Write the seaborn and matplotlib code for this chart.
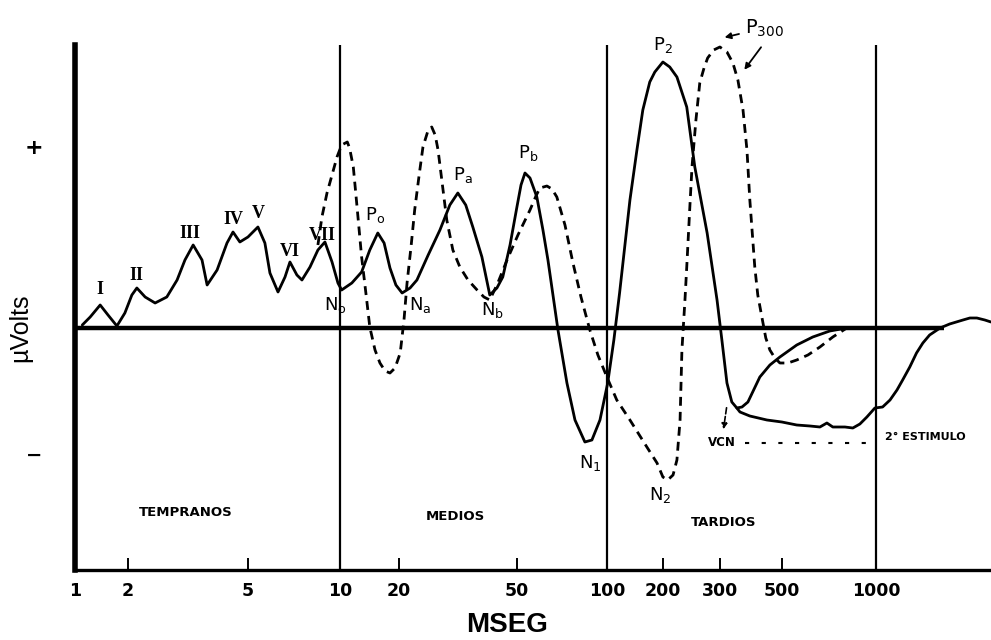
import numpy as np
import matplotlib
matplotlib.use("Agg")
from matplotlib import pyplot as plt
import seaborn as sns

# --- datos (latencia en ms, amplitud en unidades relativas de uV) ---
solid_ms = [1.1, 1.22, 1.39, 1.54, 1.73, 1.92, 2.06, 2.14, 2.28, 2.46,
            2.69, 2.91, 3.09, 3.29, 3.52, 3.66, 3.95, 4.26, 4.46, 4.7,
            5.0, 5.39, 5.68, 5.9, 6.27, 6.61, 6.86, 7.23, 7.51, 7.98,
            8.47, 8.93, 9.42, 9.85, 10.2, 11.5, 12.9, 14.2, 15.6, 16.8,
            18.0, 19.3, 20.5, 21.8, 23.0, 25.1, 27.5, 29.7, 31.6, 33.6,
            35.5, 38.1, 40.5, 42.8, 44.8, 47.4, 50.0, 51.6, 53.2, 55.3,
            58.3, 61.1, 63.5, 66.0, 68.6, 73.5, 78.2, 84.4, 89.1, 94.8,
            101, 109, 117, 133, 145, 156, 170, 181, 200, 210,
            221, 237, 251, 274, 294, 305, 318, 331, 345, 360,
            378, 417, 453, 492, 558, 628, 712, 807]
solid_uv = [0.03, 0.11, 0.23, 0.13, 0.02, 0.15, 0.33, 0.40, 0.31, 0.25,
            0.31, 0.48, 0.68, 0.83, 0.68, 0.43, 0.58, 0.85, 0.96, 0.86,
            0.91, 1.01, 0.85, 0.55, 0.36, 0.51, 0.66, 0.53, 0.48, 0.61,
            0.78, 0.86, 0.66, 0.45, 0.38, 0.45, 0.56, 0.78, 0.95, 0.85,
            0.60, 0.43, 0.35, 0.40, 0.48, 0.73, 0.98, 1.23, 1.35, 1.23,
            1.01, 0.71, 0.33, 0.40, 0.51, 0.83, 1.21, 1.43, 1.55, 1.50,
            1.31, 0.98, 0.68, 0.33, -0.02, -0.55, -0.92, -1.14, -1.12, -0.92,
            -0.55, -0.12, 0.35, 1.28, 1.78, 2.18, 2.46, 2.56, 2.66, 2.61,
            2.51, 2.21, 1.61, 0.95, 0.28, -0.12, -0.55, -0.74, -0.80, -0.79,
            -0.74, -0.49, -0.37, -0.29, -0.17, -0.09, -0.03, 0.00]

# respuesta con 2o estimulo (rama continua que sigue abajo)
second_ms = [345, 354, 384, 442, 500, 558, 615, 662, 697, 728,
             796, 844, 889, 936, 993, 1060, 1130, 1200, 1260, 1340,
             1420, 1500, 1590, 1740, 1890, 2120, 2250, 2390, 2560, 2700]
second_uv = [-0.80, -0.84, -0.88, -0.92, -0.94, -0.97, -0.98, -0.99, -0.95, -0.99,
             -0.99, -1.00, -0.96, -0.89, -0.80, -0.79, -0.72, -0.62, -0.52, -0.39,
             -0.25, -0.15, -0.07, 0.00, 0.04, 0.08, 0.10, 0.10, 0.08, 0.06]

# curva discontinua (P300)
dashed_ms = [8.47, 8.73, 9.07, 9.42, 9.78, 10.2, 10.9, 11.2, 11.7, 12.2,
             12.9, 13.6, 14.2, 15.1, 16.0, 17.0, 18.0, 19.1, 20.2, 20.8,
             21.3, 22.0, 22.6, 23.4, 24.1, 25.1, 25.8, 26.5, 27.1, 27.9,
             29.0, 30.4, 32.1, 34.2, 36.7, 38.7, 40.5, 43.1, 46.3, 50.4,
             55.3, 57.9, 59.7, 63.0, 65.5, 68.0, 72.4, 77.0, 81.9, 87.7,
             93.3, 100, 113, 133, 164, 186, 200, 207, 215, 221,
             226, 229, 234, 237, 242, 246, 253, 260, 268, 275,
             287, 300, 318, 334, 348, 363, 375, 384, 400, 410,
             424, 438, 453, 472, 492, 523, 558, 606, 662, 728, 807]
dashed_uv = [0.83, 1.11, 1.35, 1.53, 1.71, 1.83, 1.86, 1.80, 1.61, 1.23,
             0.71, 0.33, 0.01, -0.22, -0.35, -0.43, -0.45, -0.40, -0.25, 0.08,
             0.45, 0.83, 1.18, 1.53, 1.81, 1.98, 2.01, 1.93, 1.78, 1.48,
             1.08, 0.78, 0.61, 0.48, 0.38, 0.31, 0.28, 0.45, 0.68, 0.93,
             1.18, 1.32, 1.40, 1.42, 1.39, 1.31, 1.03, 0.65, 0.31, -0.02,
             -0.27, -0.49, -0.72, -0.92, -1.19, -1.35, -1.49, -1.52, -1.47, -1.32,
             -0.92, -0.22, 0.28, 0.61, 1.18, 1.61, 2.08, 2.45, 2.60, 2.70,
             2.78, 2.81, 2.76, 2.65, 2.48, 2.18, 1.78, 1.28, 0.61, 0.33,
             0.11, -0.10, -0.22, -0.30, -0.35, -0.35, -0.32, -0.27, -0.19, -0.09, 0.00]

tick_ms = [1, 2, 5, 10, 20, 50, 100, 200, 300, 500, 1000]
tick_labels = ["1", "2", "5", "10", "20", "50", "100", "200", "300", "500", "1000"]
decades = [10, 100, 1000]

roman_labels = ["I", "II", "III", "IV", "V", "VI", "VII"]
roman_ms = [1.39, 2.14, 3.21, 4.46, 5.39, 6.86, 8.73]
roman_uv = [0.38, 0.53, 0.95, 1.08, 1.15, 0.76, 0.93]

wave_labels = [r"N$_o$", r"P$_o$", r"N$_a$", r"P$_a$", r"N$_b$", r"P$_b$", r"N$_1$", r"N$_2$", r"P$_2$"]
wave_ms = [9.63, 15.1, 23.5, 32.9, 41.5, 54.4, 87.7, 193, 200]
wave_uv = [0.23, 1.13, 0.23, 1.53, 0.18, 1.75, -1.35, -1.67, 2.83]

region_labels = ["TEMPRANOS", "MEDIOS", "TARDIOS"]
region_ms = [3.11, 30.9, 310]
region_uv = [-1.85, -1.89, -1.94]

vcn_span_ms = [369, 971]
vcn_uv = -1.15

# eje X dibujado a mano: log "deformado"; posiciones (px) de cada marca en la figura original
scale_ms = [1, 2, 5, 10, 20, 50, 100, 200, 300, 500, 1000, 10000]
scale_px = [75, 128, 248, 340, 399, 517, 607, 663, 720, 782, 876, 1143]
scale_log = np.log10(scale_ms)


def fwd(x):
    x = np.asarray(x, dtype=float)
    return np.interp(np.log10(np.maximum(x, 1e-6)), scale_log, scale_px)


def inv(v):
    return 10 ** np.interp(np.asarray(v, dtype=float), scale_px, scale_log)


sns.set_style("white")
plt.rcParams['font.family'] = ['DejaVu Sans']
plt.rcParams['mathtext.default'] = 'regular'
plt.rcParams['text.color'] = 'black'
plt.rcParams['axes.edgecolor'] = 'black'
plt.rcParams['xtick.color'] = 'black'

fig = plt.figure(figsize=(9.91, 6.4), dpi=100)
ax = fig.add_axes([75 / 991, 1 - 570 / 640, 1 - 75 / 991, (570 - 45) / 640])
ax.set_xscale('function', functions=(fwd, inv))

sns.lineplot(x=solid_ms, y=solid_uv, ax=ax, color='black', lw=2.0, sort=False, estimator=None)
sns.lineplot(x=second_ms, y=second_uv, ax=ax, color='black', lw=2.0, sort=False, estimator=None)
sns.lineplot(x=dashed_ms, y=dashed_uv, ax=ax, color='black', lw=2.0, sort=False, estimator=None,
             linestyle=(0, (3.2, 2.2)))

# linea base y divisiones por decada
ax.hlines(0, 1, 1800, color='black', lw=3.2, zorder=1)
for d in decades:
    ax.axvline(d, color='black', lw=1.6, zorder=1)

ax.set_xlim(1, 2700)
ax.set_ylim(-2.42, 2.83)

for side in ['top', 'right']:
    ax.spines[side].set_visible(False)
ax.spines['left'].set_linewidth(4)
ax.spines['bottom'].set_linewidth(2.4)
ax.set_yticks([])
ax.set_xticks(tick_ms)
ax.set_xticklabels(tick_labels, fontsize=12.5, fontweight='bold')
ax.xaxis.set_minor_locator(matplotlib.ticker.NullLocator())
ax.tick_params(axis='x', bottom=True, direction='in', length=9, width=1.4, pad=9, colors='black')

# etiquetas de ondas
for lab, x, y in zip(roman_labels, roman_ms, roman_uv):
    ax.text(x, y, lab, ha='center', va='center', fontsize=13, fontweight='bold',
            family=['Liberation Serif'])
for lab, x, y in zip(wave_labels, wave_ms, wave_uv):
    ax.text(x, y, lab, ha='center', va='center', fontsize=13, clip_on=False)
for lab, x, y in zip(region_labels, region_ms, region_uv):
    ax.text(x, y, lab, ha='center', va='center', fontsize=9.5, fontweight='bold')

# P300 con sus flechas
arrow = dict(arrowstyle='-|>', color='black', lw=1.3, mutation_scale=9)
ax.annotate(r"P$_{300}$", xy=(305, 2.90), xytext=(369, 3.0), fontsize=14,
            ha='left', va='center', arrowprops=arrow, annotation_clip=False)
ax.annotate("", xy=(362, 2.56), xytext=(427, 2.83), arrowprops=arrow, annotation_clip=False)

# VCN y 2o estimulo
ax.annotate("", xy=(308, -1.04), xytext=(318, -0.77),
            arrowprops=dict(arrowstyle='-|>', color='black', lw=1.2, ls='--', mutation_scale=8))
ax.text(305, vcn_uv, "VCN", ha='center', va='center', fontsize=8.5, fontweight='bold')
ax.hlines(vcn_uv, vcn_span_ms[0], vcn_span_ms[1], color='black', lw=1.5, linestyles=(0, (2, 6)))
ax.text(1080, vcn_uv + 0.06, "2° ESTIMULO", ha='left', va='center', fontsize=8, fontweight='bold')

fig.text(20 / 991, 1 - 328 / 640, "µVolts", rotation=90, ha='center', va='center',
         fontsize=18, family=['Liberation Sans'])
fig.text(34 / 991, 1 - 148 / 640, "+", ha='center', va='center', fontsize=16, fontweight='bold')
fig.text(34 / 991, 1 - 455 / 640, "−", ha='center', va='center', fontsize=14, fontweight='bold')
fig.text(507 / 991, 1 - 625 / 640, "MSEG", ha='center', va='center', fontsize=20,
         fontweight='bold', family=['Liberation Sans'])

fig.savefig('out.png', dpi=100)
